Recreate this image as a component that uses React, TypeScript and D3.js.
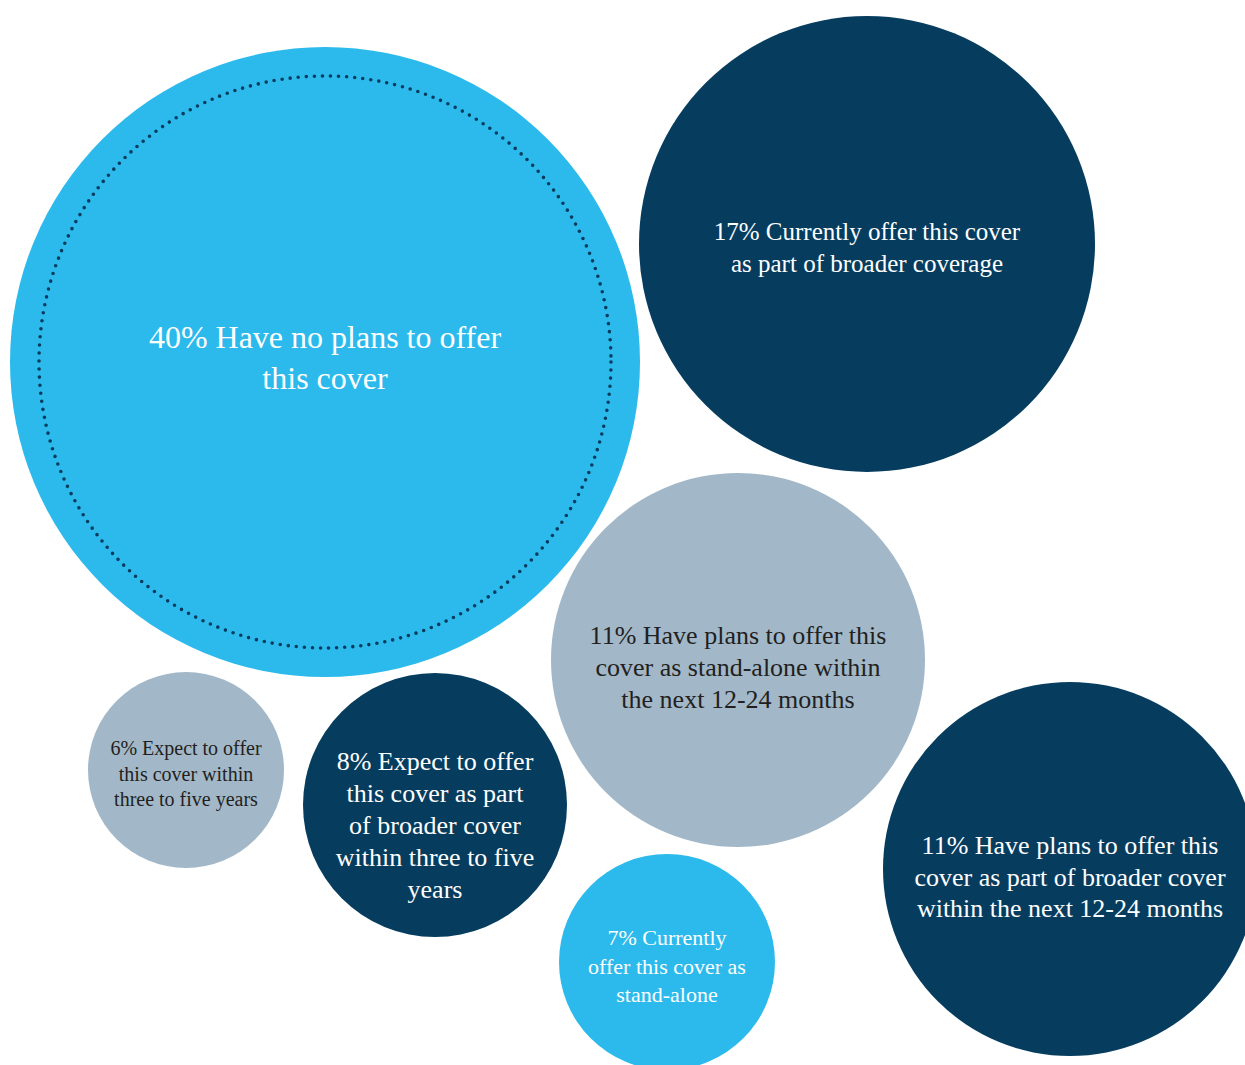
import React from "react";
import * as d3 from "d3";

// ---- data ----
const values = [40, 17, 11, 11, 6, 8, 7];
const labels = [
  ["40% Have no plans to offer", "this cover"],
  ["17% Currently offer this cover", "as part of broader coverage"],
  ["11% Have plans to offer this", "cover as stand-alone within", "the next 12-24 months"],
  ["11% Have plans to offer this", "cover as part of broader cover", "within the next 12-24 months"],
  ["6% Expect to offer", "this cover within", "three to five years"],
  ["8% Expect to offer", "this cover as part", "of broader cover", "within three to five", "years"],
  ["7% Currently", "offer this cover as", "stand-alone"],
];
const groups = ["light", "dark", "grey", "dark", "grey", "dark", "light"];

// ---- layout (positions / sizes, not data) ----
const layout = [
  { cx: 325, cy: 362, r: 315, ty: 357.5, fs: 32, lh: 41 },
  { cx: 867, cy: 244, r: 228, ty: 247, fs: 25, lh: 32 },
  { cx: 738, cy: 660, r: 187, ty: 667, fs: 26, lh: 32 },
  { cx: 1070, cy: 869, r: 187, ty: 877, fs: 26, lh: 31.5 },
  { cx: 186, cy: 770, r: 98, ty: 773.5, fs: 20, lh: 25.5 },
  { cx: 435, cy: 805, r: 132, ty: 825, fs: 26, lh: 32 },
  { cx: 667, cy: 962, r: 108, ty: 966, fs: 22, lh: 28.5 },
];

const fill = d3
  .scaleOrdinal<string, string>()
  .domain(["light", "dark", "grey"])
  .range(["#2cbaec", "#063d5f", "#a2b8c8"]);
const textColor = d3
  .scaleOrdinal<string, string>()
  .domain(["light", "dark", "grey"])
  .range(["#ffffff", "#ffffff", "#231f20"]);

const W = 1245;
const H = 1065;

export default function App() {
  const items = values.map((v, i) => ({ v, lines: labels[i], g: groups[i], ...layout[i] }));
  return (
    <svg
      width={W}
      height={H}
      style={{ position: "absolute", left: 0, top: 0, background: "#fff" }}
      fontFamily="'Liberation Serif', 'DejaVu Serif', serif"
    >
      {items.map((d, i) => (
        <g key={i}>
          <circle cx={d.cx} cy={d.cy} r={d.r} fill={fill(d.g)} />
          {i === 0 && (
            <circle
              cx={d.cx}
              cy={d.cy}
              r={d.r - 29}
              fill="none"
              stroke="#063d5f"
              strokeWidth={3.6}
              strokeLinecap="round"
              strokeDasharray="0 8.1"
            />
          )}
          <text
            textAnchor="middle"
            fill={textColor(d.g)}
            fontSize={d.fs}
          >
            {d.lines.map((l, j) => (
              <tspan
                key={j}
                x={d.cx}
                y={d.ty + (j - (d.lines.length - 1) / 2) * d.lh}
                dominantBaseline="central"
              >
                {l}
              </tspan>
            ))}
          </text>
        </g>
      ))}
    </svg>
  );
}
